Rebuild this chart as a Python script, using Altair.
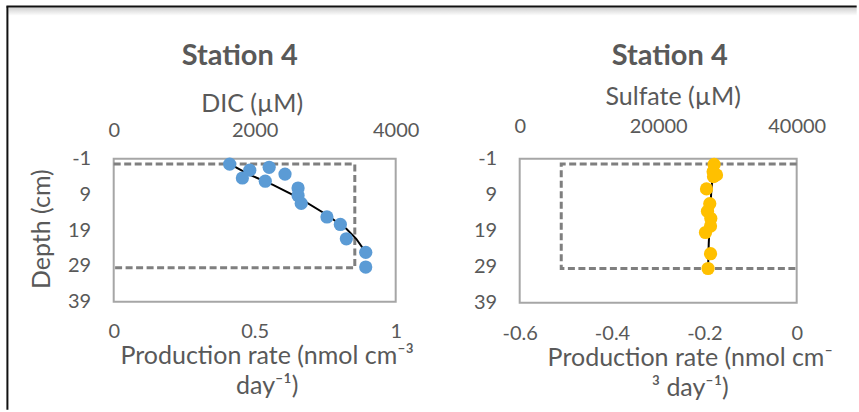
import altair as alt
import pandas as pd

# ---- Station 4: DIC profile (left panel) ----
dic_depth = [0.5, 2.2, 4.4, 1.4, 5.3, 3.3, 7.2, 9.3, 11.5, 15.3, 17.4, 21.4, 25.2, 29.3]
dic_conc = [1645, 1930, 1825, 2205, 2150, 2430, 2615, 2615, 2660, 3025, 3215, 3300, 3575, 3575]

dic_fit_depth = [0.5, 3.5, 6.3, 10.1, 14.6, 18.6, 21.4, 25.2]
dic_fit_conc = [1650, 1930, 2260, 2640, 3015, 3300, 3440, 3575]

dic_rate_depth = [0.5, 0.5, 29.5, 29.5]
dic_rate = [0, 0.855, 0.855, 0]

# ---- Station 4: sulfate profile (right panel) ----
sulf_depth = [0.6, 2.6, 3.5, 4.0, 7.4, 11.5, 13.6, 15.6, 17.7, 19.5, 25.4, 29.5]
sulf_conc = [28075, 27930, 28420, 27990, 26975, 27450, 27120, 27600, 27560, 26830, 27560, 27200]

sulf_fit_depth = [0.5, 8.6, 22.6, 29.5]
sulf_fit_conc = [28000, 27650, 27300, 27200]

sulf_rate_depth = [0.5, 0.5, 29.5, 29.5]
sulf_rate = [0, -0.51, -0.51, 0]

depth_ticks = [-1, 9, 19, 29, 39]
panel_title = "Station 4"

FONT = "Lato"
TEXT = "#595959"
LABEL_EXPR = "'' + datum.value"

one = pd.DataFrame({"k": [0]})


def panel(conc, depth, fit_conc, fit_depth, rate, rate_depth, *,
          conc_domain, conc_ticks, conc_title, rate_domain, rate_ticks,
          rate_title, color, width, height, top_pad, top_title_x, top_title_y,
          bottom_pad, bottom_title_x, bottom_title_y, title_x, title_y,
          depth_title):
    pts = pd.DataFrame({"conc": conc, "depth": depth})
    fit = pd.DataFrame({"conc": fit_conc, "depth": fit_depth,
                        "i": list(range(len(fit_conc)))})
    prod = pd.DataFrame({"rate": rate, "depth": rate_depth,
                         "i": list(range(len(rate)))})

    y_axis_kw = dict(values=depth_ticks, labelExpr=LABEL_EXPR, labelPadding=23,
                     labelFontSize=20, labelFont=FONT, labelColor=TEXT)
    if depth_title:
        y_axis = alt.Axis(title="Depth (cm)", titleFontSize=25, titleFont=FONT,
                          titleFontWeight="normal", titleColor=TEXT,
                          titleX=-64, titleY=70, titleAngle=270,
                          titleAlign="center", titleBaseline="alphabetic",
                          **y_axis_kw)
    else:
        y_axis = alt.Axis(title=None, **y_axis_kw)
    y_enc = alt.Y("depth:Q",
                  scale=alt.Scale(domain=[-1, 39], reverse=True, nice=False, zero=False),
                  axis=y_axis)

    rate_layer = alt.Chart(prod).mark_line(
        color="#7F7F7F", strokeWidth=3, strokeDash=[7, 3.5]
    ).encode(
        x=alt.X("rate:Q",
                scale=alt.Scale(domain=rate_domain, nice=False, zero=False),
                axis=alt.Axis(orient="bottom", values=rate_ticks,
                              labelExpr=LABEL_EXPR, labelPadding=bottom_pad,
                              labelFontSize=20, labelFont=FONT, labelColor=TEXT,
                              title=rate_title, titleFontSize=25, titleFont=FONT,
                              titleFontWeight="normal", titleColor=TEXT,
                              titleLineHeight=30, titleX=bottom_title_x,
                              titleY=bottom_title_y, titleAlign="center",
                              titleBaseline="alphabetic")),
        y=y_enc,
        order=alt.Order("i:Q"),
    )

    fit_layer = alt.Chart(fit).mark_line(color="black", strokeWidth=2).encode(
        x=alt.X("conc:Q", scale=alt.Scale(domain=conc_domain, nice=False), axis=None),
        y=y_enc,
        order=alt.Order("i:Q"),
    )

    pts_layer = alt.Chart(pts).mark_circle(size=175, color=color, opacity=1).encode(
        x=alt.X("conc:Q",
                scale=alt.Scale(domain=conc_domain, nice=False),
                axis=alt.Axis(orient="top", values=conc_ticks, labelExpr=LABEL_EXPR,
                              labelPadding=top_pad, labelFontSize=20, labelFont=FONT,
                              labelColor=TEXT, title=conc_title, titleFontSize=25,
                              titleFont=FONT, titleFontWeight="normal",
                              titleColor=TEXT, titleX=top_title_x,
                              titleY=top_title_y, titleAlign="center",
                              titleBaseline="alphabetic")),
        y=y_enc,
    )

    heading = alt.Chart(one).mark_text(
        text=panel_title, font=FONT, fontSize=29, fontWeight="bold", color=TEXT,
        align="center", baseline="alphabetic"
    ).encode(x=alt.value(title_x), y=alt.value(title_y))

    return alt.layer(rate_layer, fit_layer, pts_layer, heading).resolve_scale(
        x="independent"
    ).resolve_axis(x="independent").properties(width=width, height=height)


left = panel(
    dic_conc, dic_depth, dic_fit_conc, dic_fit_depth, dic_rate, dic_rate_depth,
    conc_domain=[0, 4000], conc_ticks=[0, 2000, 4000], conc_title="DIC (µM)",
    rate_domain=[0, 1], rate_ticks=[0, 0.5, 1],
    rate_title=["Production rate (nmol cm⁻³", "day⁻¹)"],
    color="#5B9BD5", width=282, height=143,
    top_pad=18, top_title_x=138, top_title_y=-47,
    bottom_pad=20, bottom_title_x=153, bottom_title_y=62,
    title_x=126, title_y=-94, depth_title=True,
)

right = panel(
    sulf_conc, sulf_depth, sulf_fit_conc, sulf_fit_depth, sulf_rate, sulf_rate_depth,
    conc_domain=[0, 40000], conc_ticks=[0, 20000, 40000], conc_title="Sulfate (µM)",
    rate_domain=[-0.6, 0], rate_ticks=[-0.6, -0.4, -0.2, 0],
    rate_title=["Production rate (nmol cm⁻", "³ day⁻¹)"],
    color="#FFC000", width=277, height=144,
    top_pad=22, top_title_x=153, top_title_y=-54,
    bottom_pad=21, bottom_title_x=170, bottom_title_y=63,
    title_x=150, title_y=-94, depth_title=False,
)

# page frame: dark left and top edges with a soft shadow under the top edge
frame_left = alt.Chart(one).mark_rule(color="#111111", strokeWidth=2).encode(
    x=alt.value(-106.3), y=alt.value(-152.3), y2=alt.value(251)
)
frame_top = alt.Chart(one).mark_rule(color="#111111", strokeWidth=2).encode(
    x=alt.value(-107.3), x2=alt.value(743), y=alt.value(-152.3)
)
frame_shadow = alt.Chart(one).mark_rect(
    fill=alt.LinearGradient(
        gradient="linear",
        stops=[alt.GradientStop(color="#cfcfcf", offset=0),
               alt.GradientStop(color="#ffffff", offset=1)],
        x1=0, x2=0, y1=0, y2=1,
    )
).encode(x=alt.value(-105.3), x2=alt.value(743), y=alt.value(-151.3), y2=alt.value(-143))

left_full = alt.layer(frame_shadow, frame_left, frame_top, left)

chart = alt.hconcat(left_full, right, spacing=124, bounds="flush").properties(
    padding={"left": 3.7, "top": 3.7, "right": 0, "bottom": 0}
).configure_view(
    stroke="#A6A6A6", strokeWidth=2
).configure_axis(
    domain=False, ticks=False, grid=False, labelFlush=False, labelOverlap=False
)

chart.save("out.html", embed_options={"renderer": "svg", "actions": False})
